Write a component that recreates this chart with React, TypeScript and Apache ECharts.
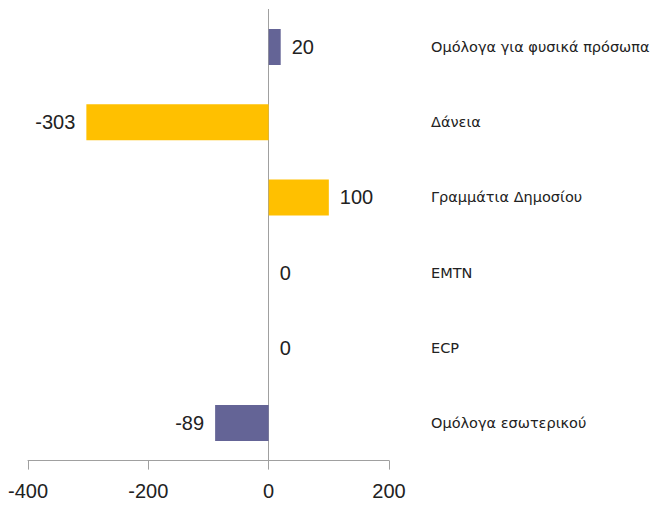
import React, { useEffect, useRef } from "react";
import * as echarts from "echarts";

const categories = [
  "Ομόλογα για φυσικά πρόσωπα",
  "Δάνεια",
  "Γραμμάτια Δημοσίου",
  "EMTN",
  "ECP",
  "Ομόλογα εσωτερικού",
];
const values = [20, -303, 100, 0, 0, -89];
const barColors = ["#646496", "#FFC000", "#FFC000", "#646496", "#646496", "#646496"];
const xTicks = { min: -400, max: 200, interval: 200 };

const FONT = "'Liberation Sans', Arial, sans-serif";
const CAT_FONT = "'DejaVu Sans', sans-serif";

export default function App() {
  const ref = useRef<HTMLDivElement>(null);
  useEffect(() => {
    if (!ref.current) return;
    const chart = echarts.init(ref.current, undefined, { renderer: "svg" });
    const data = values.map((v, i) => ({
      value: v,
      itemStyle: { color: barColors[i] },
      label: { position: v < 0 ? "left" : "right" },
    }));
    chart.setOption({
      animation: false,
      backgroundColor: "#ffffff",
      grid: { left: 28, right: 263, top: 9.4, bottom: 45.4, containLabel: false, outerBoundsMode: "none" },
      xAxis: {
        type: "value",
        min: xTicks.min,
        max: xTicks.max,
        interval: xTicks.interval,
        splitLine: { show: false },
        axisLine: { show: true, lineStyle: { color: "#a0a0a0", width: 1 } },
        axisTick: { show: true, inside: false, length: 9, lineStyle: { color: "#a0a0a0" } },
        axisLabel: { fontFamily: FONT, fontSize: 20, color: "#222222", margin: 20 },
      },
      yAxis: [
        {
          type: "category",
          data: categories,
          inverse: true,
          position: "left",
          axisLine: { show: true, onZero: true, lineStyle: { color: "#a0a0a0", width: 1 } },
          axisTick: { show: false },
          axisLabel: { show: false },
          splitLine: { show: false },
        },
        {
          type: "category",
          data: categories,
          inverse: true,
          position: "right",
          axisLine: { show: false, onZero: false },
          axisTick: { show: false },
          axisLabel: {
            show: true,
            fontFamily: CAT_FONT,
            fontSize: 14.5,
            color: "#222222",
            margin: 42,
            align: "left",
          },
          splitLine: { show: false },
        },
      ],
      series: [
        {
          type: "bar",
          yAxisIndex: 0,
          data,
          barWidth: 36,
          label: {
            show: true,
            distance: 11,
            fontFamily: FONT,
            fontSize: 20,
            color: "#222222",
          },
        },
      ],
    });
    return () => chart.dispose();
  }, []);
  return (
    <div
      ref={ref}
      style={{ position: "fixed", left: 0, top: 0, width: 652, height: 506, background: "#fff" }}
    />
  );
}
